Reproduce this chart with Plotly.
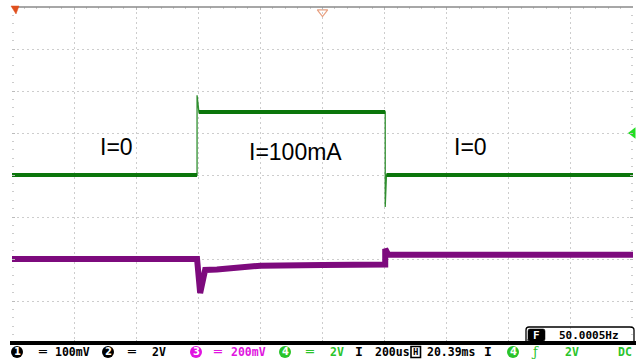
import plotly.graph_objects as go

# ---- data (time in divisions of 200us, amplitude in divisions) ----
green_t = [0, 2.98, 2.98, 3.01, 6.01, 6.01, 6.03, 10]
green_v = [0, 0, 1.9, 1.5, 1.5, -0.76, 0, 0]
green_level_t = [0, 2.98, None, 3.01, 6.01, None, 6.03, 10]
green_level_v = [0, 0, None, 1.5, 1.5, None, 0, 0]

purple_t = [0, 2.98, 3.03, 3.11, 3.3, 3.8, 4.0, 5.0, 6.01, 6.01, 6.06, 10]
purple_v = [-2.0, -2.0, -2.81, -2.26, -2.25, -2.21, -2.16, -2.14, -2.13, -1.76, -1.9, -1.9]

labels = ["I=0", "I=100mA", "I=0"]
label_x = [1.69, 4.56, 7.39]
label_y = [0.67, 0.55, 0.67]

W, H = 637, 360
L, R, T, B = 12, 633, 7, 343


def px(xp):
    return (xp - L) / (R - L)


def py(yp):
    return (B - yp) / (B - T)


GREEN = "#0b760b"
PURPLE = "#7d0a7d"
MAG = "#e014e0"
CH4 = "#2ac42a"

fig = go.Figure()
fig.add_trace(go.Scatter(x=green_t, y=green_v, mode="lines",
                         line=dict(color="#2f8f2f", width=1.3), hoverinfo="skip"))
fig.add_trace(go.Scatter(x=green_level_t, y=green_level_v, mode="lines",
                         line=dict(color=GREEN, width=4), hoverinfo="skip"))
fig.add_trace(go.Scatter(x=purple_t, y=purple_v, mode="lines",
                         line=dict(color=PURPLE, width=6), hoverinfo="skip"))
# channel marker at right edge and trigger marker at top
fig.add_trace(go.Scatter(x=[10], y=[1.0], mode="markers", cliponaxis=False,
                         marker=dict(symbol="triangle-left", size=10, color="#22dd22"),
                         hoverinfo="skip"))
fig.add_trace(go.Scatter(x=[5.0], y=[3.88], mode="markers", cliponaxis=False,
                         marker=dict(symbol="triangle-down-open", size=9,
                                     color="#e8a080", line=dict(width=1.2)),
                         hoverinfo="skip"))

annotations = []
shapes = []
for t, x, y in zip(labels, label_x, label_y):
    annotations.append(dict(x=x, y=y, xref="x", yref="y", text=t, showarrow=False,
                            font=dict(family="Liberation Sans, Arial", size=23, color="black")))

# status bar
yb = py(352)
mono = "DejaVu Sans Mono"

# channel badges (filled circle with white digit)
badges = [("1", 17, "black"), ("2", 108, "black"), ("3", 196, MAG),
          ("4", 285, CH4), ("4", 513, CH4)]
for d, x, c in badges:
    shapes.append(dict(type="circle", xref="paper", yref="paper",
                       x0=px(x - 6), x1=px(x + 6), y0=py(358), y1=py(346),
                       fillcolor=c, line=dict(color=c, width=0)))
    annotations.append(dict(x=px(x), y=py(352), xref="paper", yref="paper",
                            text=f"<b>{d}</b>", showarrow=False,
                            xanchor="center", yanchor="middle",
                            font=dict(family="DejaVu Sans", size=10, color="white")))

bar = [
    ("<b>═</b>", 42, "black", 13, mono),
    ("<b>100mV</b>", 72, "black", 11.5, mono),
    ("<b>═</b>", 131, "black", 13, mono),
    ("<b>2V</b>", 159, "black", 11.5, mono),
    ("<b>═</b>", 218, MAG, 13, mono),
    ("<b>200mV</b>", 249, MAG, 11.5, mono),
    ("<b>═</b>", 309, CH4, 13, mono),
    ("<b>2V</b>", 337, CH4, 11.5, mono),
    ("<b>I</b>", 359, "black", 13, mono),
    ("<b>200us</b>", 393, "black", 11.5, mono),
    ("<b>20.39ms</b>", 451, "black", 11.5, mono),
    ("<b>I</b>", 488, "black", 13, mono),
    ("ƒ", 535, CH4, 13, "DejaVu Serif"),
    ("<b>2V</b>", 572, CH4, 11.5, mono),
    ("<b>DC</b>", 625, CH4, 11.5, mono),
]
for text, x, c, s, f in bar:
    annotations.append(dict(x=px(x), y=yb, xref="paper", yref="paper", text=text,
                            showarrow=False, xanchor="center", yanchor="middle",
                            font=dict(family=f, size=s, color=c)))
# boxed H
shapes.append(dict(type="rect", xref="paper", yref="paper",
                   x0=px(411), x1=px(420.5), y0=py(357.5), y1=py(346.5),
                   line=dict(color="black", width=1.6)))
annotations.append(dict(x=px(415.8), y=py(352), xref="paper", yref="paper", text="<b>H</b>",
                        showarrow=False, xanchor="center", yanchor="middle",
                        font=dict(family=mono, size=9, color="black")))
# frequency box
shapes.append(dict(type="path", xref="paper", yref="paper",
                   path=f"M {px(528)},{py(341)} L {px(528)},{py(331)} Q {px(528)},{py(329)} {px(530)},{py(329)} "
                        f"L {px(543)},{py(329)} Q {px(545)},{py(329)} {px(545)},{py(331)} "
                        f"L {px(545)},{py(339)} Q {px(545)},{py(341)} {px(543)},{py(341)} "
                        f"L {px(530)},{py(341)} Q {px(528)},{py(341)} {px(528)},{py(339)} Z",
                   fillcolor="black", line=dict(color="black", width=0.5)))
annotations.append(dict(x=px(536.5), y=py(335), xref="paper", yref="paper", text="<b>F</b>",
                        showarrow=False, xanchor="center", yanchor="middle",
                        font=dict(family=mono, size=11, color="white")))
annotations.append(dict(x=px(589), y=py(335), xref="paper", yref="paper",
                        text="<b>50.0005Hz</b>", showarrow=False,
                        xanchor="center", yanchor="middle",
                        font=dict(family=mono, size=11, color="black")))

shapes += [
    # top border
    dict(type="line", xref="paper", yref="paper", x0=0, x1=1, y0=1, y1=1,
         line=dict(color="#8a8a8a", width=1.5)),
    # bottom black bar
    dict(type="line", xref="paper", yref="paper", x0=px(10), x1=px(636), y0=py(343), y1=py(343),
         line=dict(color="black", width=4)),
    # freq box outline
    dict(type="path", xref="paper", yref="paper",
         path=f"M {px(526)},{py(343)} L {px(526)},{py(330)} Q {px(526)},{py(327)} {px(529)},{py(327)} "
              f"L {px(630)},{py(327)} Q {px(634)},{py(327)} {px(634)},{py(330)} L {px(634)},{py(343)}",
         line=dict(color="black", width=1.3)),
    # corner marker
    dict(type="path", xref="paper", yref="paper",
         path=f"M {px(11)},{py(6)} L {px(19)},{py(6)} L {px(16)},{py(14)} Z",
         fillcolor="#e0501e", line=dict(color="#e0501e", width=0.5)),
]

fig.update_layout(
    width=W, height=H,
    margin=dict(l=L, r=W - R, t=T, b=H - B, autoexpand=False),
    paper_bgcolor="white", plot_bgcolor="white",
    showlegend=False,
    annotations=annotations, shapes=shapes,
    xaxis=dict(range=[0, 10], showticklabels=False, zeroline=False,
               showgrid=True, gridcolor="#cdcdcd", griddash="2px,3px", gridwidth=1,
               dtick=1, ticks="inside", ticklen=3, tickcolor="#bbbbbb", mirror="ticks",
               minor=dict(ticks="inside", dtick=0.2, ticklen=2, tickcolor="#cccccc"),
               fixedrange=True),
    yaxis=dict(range=[-4, 4], showticklabels=False, zeroline=False,
               showgrid=True, gridcolor="#cdcdcd", griddash="2px,3px", gridwidth=1,
               dtick=1, ticks="inside", ticklen=3, tickcolor="#bbbbbb", mirror="ticks",
               minor=dict(ticks="inside", dtick=0.2, ticklen=2, tickcolor="#cccccc"),
               fixedrange=True),
)

fig.write_html("out.html", config=dict(displayModeBar=False),
               post_script="document.body.style.margin='0';document.body.style.overflow='hidden';")
